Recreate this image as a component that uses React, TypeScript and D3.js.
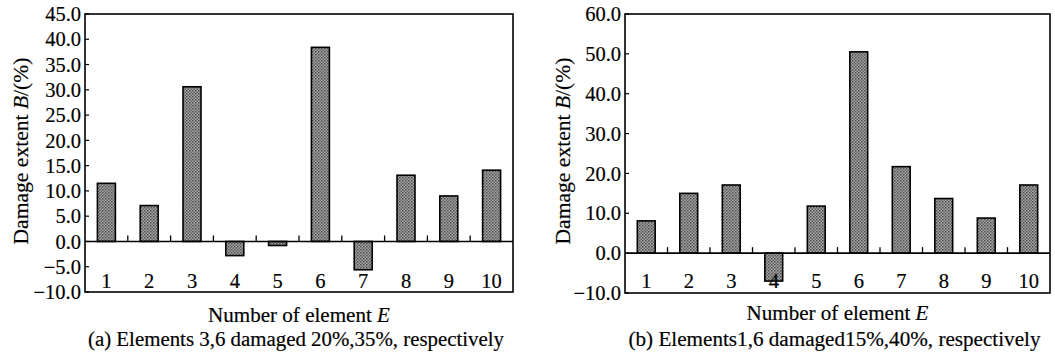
import * as d3 from "d3"

// element numbers along the x axis
const elements = ["1", "2", "3", "4", "5", "6", "7", "8", "9", "10"]

// damage extent (%)
const damageA = [11.5, 7.1, 30.6, -2.8, -0.8, 38.4, -5.6, 13.1, 9.0, 14.1]
const damageB = [8.1, 15.0, 17.1, -7.0, 11.8, 50.5, 21.7, 13.7, 8.8, 17.1]

// y tick values
const ticksA = [-10, -5, 0, 5, 10, 15, 20, 25, 30, 35, 40, 45]
const ticksB = [-10, 0, 10, 20, 30, 40, 50, 60]

const captionA = "(a) Elements 3,6 damaged 20%,35%, respectively"
const captionB = "(b) Elements1,6 damaged15%,40%, respectively"

const FONT = "'Liberation Serif', 'DejaVu Serif', serif"

type PanelProps = {
  values: number[]
  ticks: number[]
  left: number
  right: number
  top: number
  bottom: number
  caption: string
  captionLen: number
  xTitleY: number
  yTitleX: number
}

function Panel({ values, ticks, left, right, top, bottom, caption, captionLen, xTitleY, yTitleX }: PanelProps) {
  const x = d3.scaleBand<string>().domain(elements).range([left, right]).paddingInner(0.58).paddingOuter(0.29)
  const band = d3.scaleBand<string>().domain(elements).range([left, right])
  const y = d3.scaleLinear().domain([ticks[0], ticks[ticks.length - 1]]).range([bottom, top])
  const y0 = y(0)
  const cx = (left + right) / 2

  return (
    <g style={{ fontFamily: FONT }} fill="#000" stroke="none">
      {/* bars */}
      {values.map((v, i) => (
        <rect
          key={i}
          x={x(elements[i])}
          width={x.bandwidth()}
          y={Math.min(y(v), y0)}
          height={Math.abs(y(v) - y0)}
          fill="url(#stipple)"
          stroke="#000"
          strokeWidth={1.6}
        />
      ))}

      {/* zero line with ticks at band boundaries */}
      <line x1={left} x2={right} y1={y0} y2={y0} stroke="#000" strokeWidth={1.6} />
      {elements.slice(1).map((e) => (
        <line key={e} x1={band(e)} x2={band(e)} y1={y0} y2={y0 - 6} stroke="#000" strokeWidth={1.3} />
      ))}

      {/* left ticks pointing inward */}
      {ticks.map((t) => (
        <line key={t} x1={left} x2={left + 4} y1={y(t)} y2={y(t)} stroke="#000" strokeWidth={1.2} />
      ))}

      {/* frame */}
      <rect x={left} y={top} width={right - left} height={bottom - top} fill="none" stroke="#000" strokeWidth={1.6} />

      <g stroke="#000" strokeWidth={0.18}>
        {/* y tick labels */}
        {ticks.map((t) => (
          <text key={t} x={left - 4} y={y(t)} dy="0.35em" textAnchor="end" fontSize={20.5}>
            {t < 0 ? "\u2212" + Math.abs(t).toFixed(1) : t.toFixed(1)}
          </text>
        ))}

        {/* element numbers */}
        {elements.map((e) => (
          <text key={e} x={band(e)! + band.bandwidth() / 2} y={288} textAnchor="middle" fontSize={20.5}>
            {e}
          </text>
        ))}

        {/* y title */}
        <text
          transform={`translate(${yTitleX},${151}) rotate(-90)`}
          textAnchor="middle"
          fontSize={20.5}
          textLength={187}
          lengthAdjust="spacingAndGlyphs"
        >
          Damage extent <tspan fontStyle="italic">B</tspan>/(%)
        </text>

        {/* x title */}
        <text x={cx} y={xTitleY} textAnchor="middle" fontSize={20.5} textLength={182} lengthAdjust="spacingAndGlyphs">
          Number of element <tspan fontStyle="italic">E</tspan>
        </text>

        {/* caption */}
        <text x={cx - 3} y={346} textAnchor="middle" fontSize={20} textLength={captionLen} lengthAdjust="spacingAndGlyphs">
          {caption}
        </text>
      </g>
    </g>
  )
}

export default function App() {
  return (
    <svg width={1055} height={361} style={{ position: "absolute", left: 0, top: 0, background: "#fff" }}>
      <defs>
        <pattern id="stipple" width={3} height={3} patternUnits="userSpaceOnUse">
          <rect width={3} height={3} fill="#a8a8a8" />
          <rect width={1.5} height={1.5} fill="#4a4a4a" />
          <rect x={1.5} y={1.5} width={1.5} height={1.5} fill="#636363" />
        </pattern>
      </defs>
      <Panel
        values={damageA}
        ticks={ticksA}
        left={85}
        right={513}
        top={14}
        bottom={292}
        caption={captionA}
        captionLen={416}
        xTitleY={322}
        yTitleX={28}
      />
      <Panel
        values={damageB}
        ticks={ticksB}
        left={625}
        right={1050}
        top={14}
        bottom={293}
        caption={captionB}
        captionLen={412}
        xTitleY={320}
        yTitleX={570}
      />
    </svg>
  )
}
